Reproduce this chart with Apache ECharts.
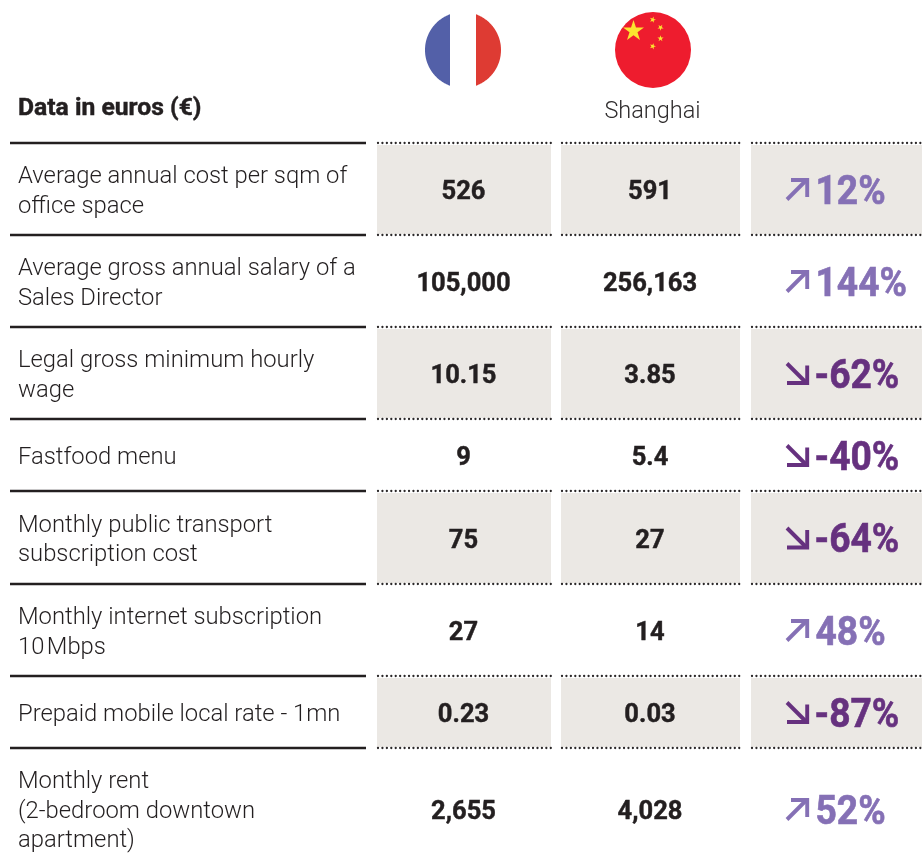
<!DOCTYPE html>
<html><head><meta charset="utf-8">
<style>html,body{margin:0;padding:0;background:#fff}#c{width:922px;height:864px}</style>
<script src="https://cdn.jsdelivr.net/npm/echarts@6/dist/echarts.min.js"></script>
</head><body><div id="c"></div>
<script>
const categories = ['Average annual cost per sqm of\noffice space','Average gross annual salary of a\nSales Director','Legal gross minimum hourly\nwage','Fastfood menu','Monthly public transport\nsubscription cost','Monthly internet subscription\n10\u200aMbps','Prepaid mobile local rate - 1mn','Monthly rent\n(2-bedroom downtown\napartment)'];
const franceValues = [526,105000,10.15,9,75,27,0.23,2655];
const shanghaiValues = [591,256163,3.85,5.4,27,14,0.03,4028];
const changePercent = [12,144,-62,-40,-64,48,-87,52];
const headerTitle = 'Data in euros (\u20ac)';
const cityName = 'Shanghai';

// layout
const rowEdges = [143,235,327,419,491,584,676,748,870];
const cols = [[377,551],[561,740],[751,922]];
const ink = '#231f20';
const fmt = v => v.toLocaleString('en-US',{maximumFractionDigits:2});
const poly = (pts,fill) => ({type:'polygon',shape:{points:pts},style:{fill}});
function star(cx,cy,r,rot,fill){
  const p=[];
  for(let i=0;i<10;i++){const a=rot-Math.PI/2+i*Math.PI/5;const q=i%2?r*0.382:r;p.push([cx+q*Math.cos(a),cy+q*Math.sin(a)]);}
  return poly(p,fill);
}
function band(cx,cy,r,x0,x1,fill){
  const p=[],n=60;
  const a0=Math.acos(Math.max(-1,(x1-cx)/r)),a1=Math.acos(Math.min(1,(x0-cx)/r));
  for(let i=0;i<=n;i++){const a=a0+(a1-a0)*i/n;p.push([cx+r*Math.cos(a),cy-r*Math.sin(a)]);}
  for(let i=n;i>=0;i--){const a=a0+(a1-a0)*i/n;p.push([cx+r*Math.cos(a),cy+r*Math.sin(a)]);}
  return poly(p,fill);
}
function dotted(x0,x1,y){return {type:'line',z2:3,shape:{x1:x0+1,y1:y,x2:x1,y2:y},style:{stroke:'#2b2829',lineWidth:2.3,lineCap:'round',lineDash:[0.01,4.42]}};}
function boldText(text,x,y,fill,font,align){
  return {type:'text',style:{text,x,y,fill,font,align,verticalAlign:'middle',stroke:fill,lineWidth:0.45}};
}
function renderRow(params,api){
  const i=api.value(0), top=rowEdges[i], bot=rowEdges[i+1], mid=(top+bot)/2;
  const ch=[];
  if(i%2===0){cols.forEach(c=>ch.push({type:'rect',shape:{x:c[0],y:top+2,width:c[1]-c[0],height:bot-top-3},style:{fill:'#ebe8e4'}}));}
  ch.push({type:'line',shape:{x1:10,y1:top,x2:366,y2:top},style:{stroke:ink,lineWidth:2.6}});
  cols.forEach(c=>ch.push(dotted(c[0],c[1],top)));
  ch.push({type:'text',style:{text:categories[i],x:18,y:mid+3,fill:'#231f20',font:'300 23.8px Roboto',lineHeight:29.5,align:'left',verticalAlign:'middle'}});
  ch.push(boldText(fmt(franceValues[i]),463.5,mid+4,ink,'700 25.5px Roboto','center'));
  ch.push(boldText(fmt(shanghaiValues[i]),650,mid+4,ink,'700 25.5px Roboto','center'));
  const v=changePercent[i], up=v>0, col=up?'#8570b5':'#66317f', ay=mid+0.5;
  const stroke={stroke:col,lineWidth:3.9,fill:null};
  if(up){
    ch.push({type:'polyline',shape:{points:[[787,ay+10],[806,ay-9]]},style:stroke});
    ch.push({type:'polyline',shape:{points:[[791,ay-9.5],[807.2,ay-9.5],[807.2,ay+7.5]]},style:stroke});
  }else{
    ch.push({type:'polyline',shape:{points:[[787,ay-10],[806,ay+9]]},style:stroke});
    ch.push({type:'polyline',shape:{points:[[787,ay+9.5],[807.2,ay+9.5],[807.2,ay-8]]},style:stroke});
  }
  const tx=up?815.5:814.5;
  ch.push({type:'text',scaleX:0.93,originX:tx,originY:mid,style:{text:v+'%',x:tx,y:mid+4.5,fill:col,font:'700 40px Roboto',align:'left',verticalAlign:'middle',stroke:col,lineWidth:0.6}});
  return {type:'group',children:ch};
}
function renderHeader(){
  const ch=[
    boldText(headerTitle,18,109,ink,'700 24.7px Roboto','left'),
    {type:'text',style:{text:cityName,x:652.5,y:112,fill:'#2f2c2d',font:'300 23.5px Roboto',align:'center',verticalAlign:'middle'}},
    band(463,50,38,425,450,'#5360a8'),
    band(463,50,38,476,501,'#de3b33'),
    {type:'circle',shape:{cx:653,cy:50,r:38},style:{fill:'#ee1c2e'}},
    star(633.5,31,11,0,'#fbe52f'),
    star(652.7,19.7,3.3,0.3,'#fbe52f'),
    star(660.5,27.5,3.3,0.6,'#fbe52f'),
    star(660.5,38.5,3.3,0,'#fbe52f'),
    star(652.7,46.3,3.3,0.3,'#fbe52f')
  ];
  return {type:'group',children:ch};
}
const chart=echarts.init(document.getElementById('c'),null,{renderer:'canvas'});
chart.setOption({
  animation:false,
  backgroundColor:'#fff',
  series:[
    {type:'custom',coordinateSystem:'none',silent:true,renderItem:renderRow,data:categories.map((c,i)=>[i])},
    {type:'custom',coordinateSystem:'none',silent:true,renderItem:renderHeader,data:[[0]]}
  ]
});
</script></body></html>
